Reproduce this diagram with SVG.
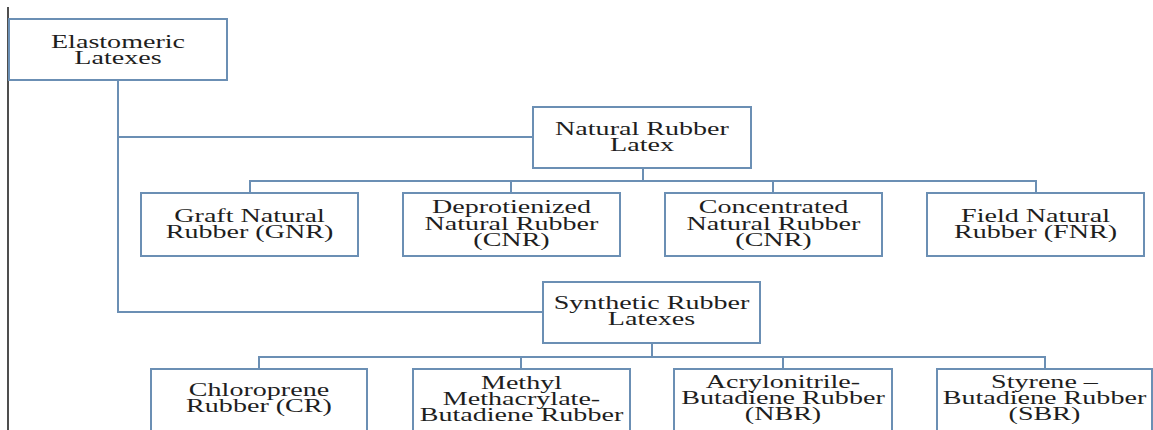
<svg xmlns="http://www.w3.org/2000/svg" width="1153" height="430" viewBox="0 0 1153 430">
<style>
.box{fill:#ffffff;stroke:#6b8fb4;stroke-width:2}
.con{fill:none;stroke:#6b8fb4;stroke-width:2}
.t{font-family:"Liberation Serif","Times New Roman",serif;font-size:18px;fill:#1e1e1e;text-anchor:middle}
</style>
<rect width="1153" height="430" fill="#ffffff"/>
<line x1="8" y1="7" x2="8" y2="430" stroke="#222" stroke-width="1.6"/>
<g id="connectors">
<path class="con" d="M118 80 V312 H543"/>
<path class="con" d="M118 137 H533"/>
<path class="con" d="M643 168 V181"/>
<path class="con" d="M250 193 V181 H1036 V193 M511 181 V193 M773 181 V193"/>
<path class="con" d="M652 343 V357"/>
<path class="con" d="M259 369 V357 H1045 V369 M521 357 V369 M783 357 V369"/>
</g>
<g id="elastomeric">
<rect class="box" x="9" y="19" width="218" height="61"/>
<text class="t" transform="translate(118,48) scale(1.56,1)">Elastomeric</text>
<text class="t" transform="translate(118,64) scale(1.56,1)">Latexes</text>
</g>
<g id="natural">
<rect class="box" x="533" y="107" width="218" height="61"/>
<text class="t" transform="translate(642,135) scale(1.56,1)">Natural Rubber</text>
<text class="t" transform="translate(642,151) scale(1.56,1)">Latex</text>
</g>
<g id="gnr">
<rect class="box" x="141" y="193" width="217" height="63"/>
<text class="t" transform="translate(249.5,222) scale(1.56,1)">Graft Natural</text>
<text class="t" transform="translate(249.5,238) scale(1.56,1)">Rubber (GNR)</text>
</g>
<g id="dnr">
<rect class="box" x="403" y="193" width="217" height="63"/>
<text class="t" transform="translate(511.5,213) scale(1.56,1)">Deprotienized</text>
<text class="t" transform="translate(511.5,229.5) scale(1.56,1)">Natural Rubber</text>
<text class="t" transform="translate(511.5,246) scale(1.56,1)">(CNR)</text>
</g>
<g id="cnr">
<rect class="box" x="665" y="193" width="217" height="63"/>
<text class="t" transform="translate(773.5,213) scale(1.56,1)">Concentrated</text>
<text class="t" transform="translate(773.5,229.5) scale(1.56,1)">Natural Rubber</text>
<text class="t" transform="translate(773.5,246) scale(1.56,1)">(CNR)</text>
</g>
<g id="fnr">
<rect class="box" x="927" y="193" width="217" height="63"/>
<text class="t" transform="translate(1035.5,221.5) scale(1.56,1)">Field Natural</text>
<text class="t" transform="translate(1035.5,237.5) scale(1.56,1)">Rubber (FNR)</text>
</g>
<g id="synthetic">
<rect class="box" x="543" y="282" width="217" height="61"/>
<text class="t" transform="translate(651.5,308.5) scale(1.56,1)">Synthetic Rubber</text>
<text class="t" transform="translate(651.5,325) scale(1.56,1)">Latexes</text>
</g>
<g id="cr">
<rect class="box" x="151" y="369" width="216" height="64"/>
<text class="t" transform="translate(259,396) scale(1.56,1)">Chloroprene</text>
<text class="t" transform="translate(259,412) scale(1.56,1)">Rubber (CR)</text>
</g>
<g id="mmbr">
<rect class="box" x="413" y="369" width="217" height="64"/>
<text class="t" transform="translate(521.5,389) scale(1.56,1)">Methyl</text>
<text class="t" transform="translate(521.5,405) scale(1.56,1)">Methacrylate-</text>
<text class="t" transform="translate(521.5,421) scale(1.56,1)">Butadiene Rubber</text>
</g>
<g id="nbr">
<rect class="box" x="674" y="369" width="218" height="64"/>
<text class="t" transform="translate(783,388) scale(1.56,1)">Acrylonitrile-</text>
<text class="t" transform="translate(783,404) scale(1.56,1)">Butadiene Rubber</text>
<text class="t" transform="translate(783,420) scale(1.56,1)">(NBR)</text>
</g>
<g id="sbr">
<rect class="box" x="937" y="369" width="215" height="64"/>
<text class="t" transform="translate(1044.5,388) scale(1.56,1)">Styrene –</text>
<text class="t" transform="translate(1044.5,404) scale(1.56,1)">Butadiene Rubber</text>
<text class="t" transform="translate(1044.5,420) scale(1.56,1)">(SBR)</text>
</g>
</svg>
